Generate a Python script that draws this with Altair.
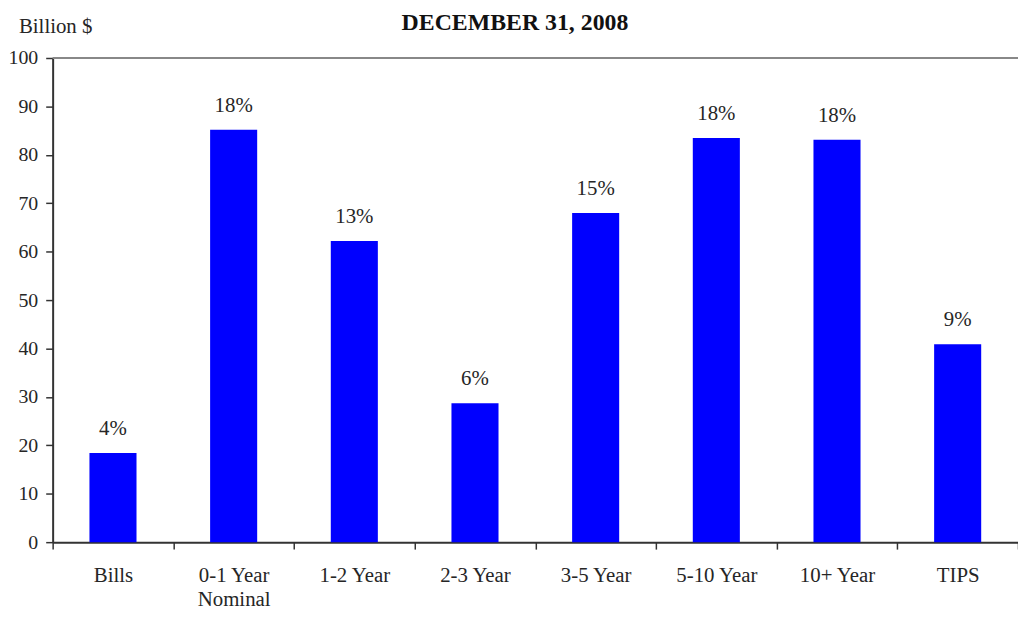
import altair as alt
import pandas as pd

categories = ["Bills", "0-1 Year Nominal", "1-2 Year", "2-3 Year", "3-5 Year", "5-10 Year", "10+ Year", "TIPS"]
values = [18.4, 85.2, 62.2, 28.7, 68.0, 83.5, 83.1, 40.9]
shares = ["4%", "18%", "13%", "6%", "15%", "18%", "18%", "9%"]
y_ticks = [0, 10, 20, 30, 40, 50, 60, 70, 80, 90, 100]

df = pd.DataFrame({"cat": categories, "val": values, "pct": shares})

FONT = "Liberation Serif"
TXT = "#262626"

x_enc = alt.X(
    "cat:N",
    sort=categories,
    scale=alt.Scale(paddingInner=0, paddingOuter=0),
    axis=alt.Axis(
        title=None,
        tickBand="extent",
        labelAngle=0,
        labelFont=FONT,
        labelFontSize=21,
        labelColor=TXT,
        labelPadding=16,
        labelLineHeight=24,
        labelBaseline="top",
        tickSize=7,
        tickColor="#333333",
        domainColor="#333333",
        domainWidth=2,
        tickWidth=1.5,
        labelExpr="datum.value == '0-1 Year Nominal' ? ['0-1 Year', 'Nominal'] : datum.value",
        grid=False,
    ),
)

y_scale = alt.Scale(domain=[0, 100], nice=False)

bars = alt.Chart(df).mark_bar(color="#0000FF", width=alt.RelativeBandSize(0.39)).encode(
    x=x_enc,
    y=alt.Y(
        "val:Q",
        scale=y_scale,
        axis=alt.Axis(
            title=None,
            values=y_ticks,
            labelFont=FONT,
            labelFontSize=20,
            labelColor=TXT,
            labelPadding=8,
            tickSize=7,
            tickColor="#333333",
            tickWidth=1.5,
            domainColor="#333333",
            domainWidth=2,
            grid=False,
        ),
    ),
)

labels = alt.Chart(df).mark_text(
    font=FONT, fontSize=21, color=TXT, baseline="alphabetic", dy=-18
).encode(
    x=alt.X("cat:N", sort=categories),
    y=alt.Y("val:Q", scale=y_scale),
    text="pct:N",
)

top_line = alt.Chart(pd.DataFrame({"v": [100]})).mark_rule(
    color="#888888", strokeWidth=2
).encode(y=alt.Y("v:Q", scale=y_scale))

title_text = alt.Chart(pd.DataFrame({"t": ["DECEMBER 31, 2008"]})).mark_text(
    font=FONT, fontSize=24, fontWeight="bold", color="#111111", align="center", baseline="alphabetic"
).encode(x=alt.value(466), y=alt.value(-28), text="t:N")

unit_text = alt.Chart(pd.DataFrame({"t": ["Billion $"]})).mark_text(
    font=FONT, fontSize=21, color=TXT, align="left", baseline="alphabetic"
).encode(x=alt.value(-34), y=alt.value(-25), text="t:N")

chart = (
    alt.layer(top_line, bars, labels, title_text, unit_text)
    .properties(
        width=973,
        height=488,
        autosize=alt.AutoSizeParams(type="none"),
        padding={"left": 45, "top": 48, "right": 0, "bottom": 68},
    )
    .configure_view(stroke=None)
    .configure(background="white")
)

chart.save("out.html", embed_options={"renderer": "svg", "actions": False})
